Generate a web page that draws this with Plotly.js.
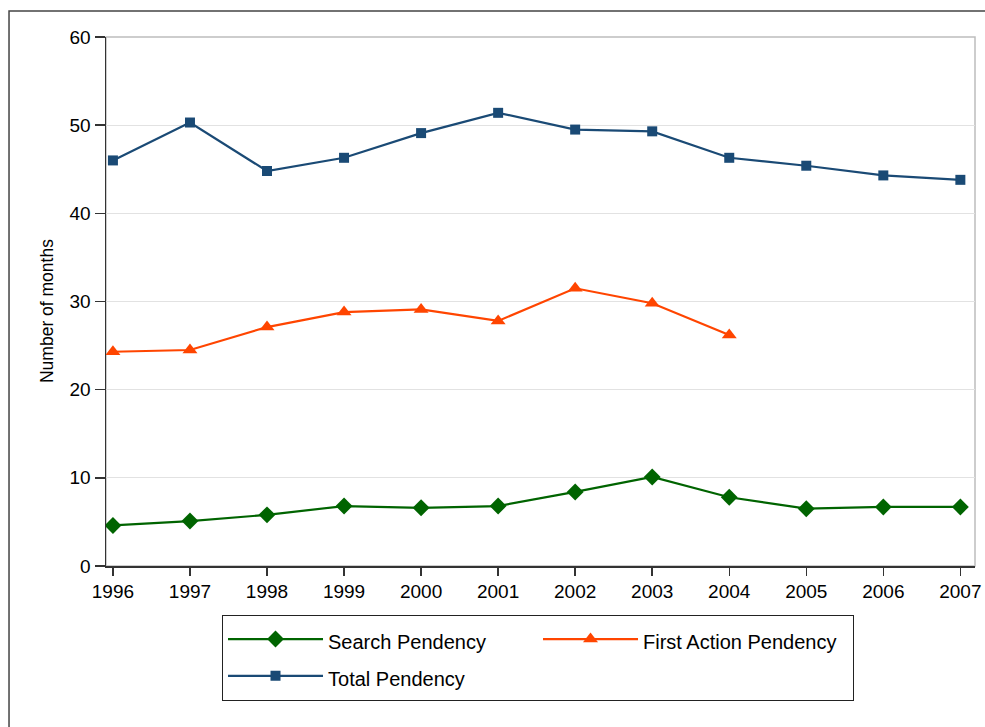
<!DOCTYPE html>
<html>
<head>
<meta charset="utf-8">
<script src="https://cdn.plot.ly/plotly-3.0.1.min.js"></script>
<style>html,body{margin:0;padding:0;background:#fff;}#chart{width:985px;height:727px;}</style>
</head>
<body>
<div id="chart"></div>
<script>
const years = [1996, 1997, 1998, 1999, 2000, 2001, 2002, 2003, 2004, 2005, 2006, 2007];
const searchPendency = [4.6, 5.1, 5.8, 6.8, 6.6, 6.8, 8.4, 10.1, 7.8, 6.5, 6.7, 6.7];
const firstActionYears = [1996, 1997, 1998, 1999, 2000, 2001, 2002, 2003, 2004];
const firstActionPendency = [24.3, 24.5, 27.1, 28.8, 29.1, 27.8, 31.5, 29.8, 26.2];
const totalPendency = [46.0, 50.3, 44.8, 46.3, 49.1, 51.4, 49.5, 49.3, 46.3, 45.4, 44.3, 43.8];
const seriesNames = ['Search Pendency', 'First Action Pendency', 'Total Pendency'];
const yTicks = [0, 10, 20, 30, 40, 50, 60];
const yTitle = 'Number of months';

const lbl = s => '<span style="font-size:20px">' + s + '</span>';

const traces = [
  {x: years, y: searchPendency, name: lbl(seriesNames[0]), mode: 'lines+markers',
   line: {color: '#006400', width: 2.2}, marker: {symbol: 'diamond', size: 13, color: '#006400'}},
  {x: firstActionYears, y: firstActionPendency, name: lbl(seriesNames[1]), mode: 'lines+markers',
   line: {color: '#ff4500', width: 2.2}, marker: {symbol: 'triangle-up', size: 13, color: '#ff4500'}},
  {x: years, y: totalPendency, name: lbl(seriesNames[2]), mode: 'lines+markers',
   line: {color: '#1a4a75', width: 2.2}, marker: {symbol: 'square', size: 10, color: '#1a4a75'}}
];

const layout = {
  width: 985, height: 727,
  margin: {l: 106, r: 10, t: 37, b: 161},
  paper_bgcolor: '#ffffff', plot_bgcolor: '#ffffff',
  font: {family: 'Liberation Sans, Arial, sans-serif', color: '#000', size: 19},
  showlegend: true,
  xaxis: {
    range: [1995.91, 2007.19], tickvals: years, ticktext: years.map(String),
    showgrid: false, zeroline: false, showline: true, linecolor: '#333', linewidth: 1.5,
    ticks: 'outside', ticklen: 8, tickcolor: '#333', tickwidth: 1.5,
    tickfont: {size: 19}
  },
  yaxis: {
    range: [0, 60], tickvals: yTicks,
    showgrid: true, gridcolor: '#e2e2e2', gridwidth: 1, zeroline: false,
    showline: true, linecolor: '#333', linewidth: 1.5,
    ticks: 'outside', ticklen: 10, tickcolor: '#333', tickwidth: 1.5,
    tickfont: {size: 19}
  },
  annotations: [
    {text: yTitle, xref: 'paper', yref: 'paper', x: -0.0679, y: 0.482,
     xanchor: 'center', yanchor: 'middle', textangle: -90, showarrow: false,
     font: {size: 17.5, color: '#000'}}
  ],
  legend: {
    orientation: 'h', x: 0.1335, xanchor: 'left', y: -0.092, yanchor: 'top',
    bordercolor: '#222', borderwidth: 1, bgcolor: '#fff',
    font: {size: 26}, itemwidth: 95, entrywidth: 205, entrywidthmode: 'pixels',
    traceorder: 'normal'
  },
  shapes: [
    {type: 'rect', xref: 'paper', yref: 'paper', x0: 0, x1: 1, y0: 0, y1: 1,
     line: {color: '#bdbdbd', width: 1.5}, layer: 'below'},
    {type: 'rect', xref: 'paper', yref: 'paper', x0: -0.1116, x1: 1.03, y0: -0.33, y1: 1.049,
     line: {color: '#444', width: 1.5}, layer: 'below'}
  ]
};

Plotly.newPlot('chart', traces, layout, {displayModeBar: false, staticPlot: true});
</script>
</body>
</html>
